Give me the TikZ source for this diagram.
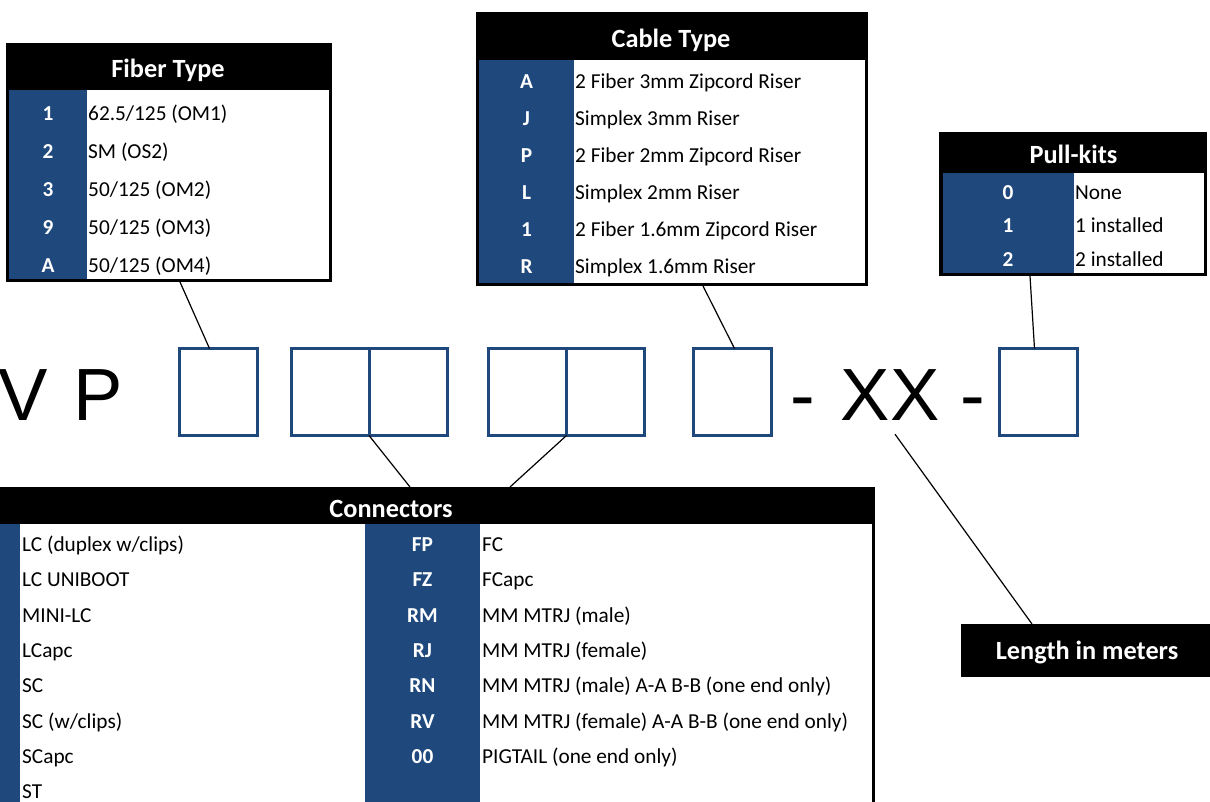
\documentclass[tikz,border=0pt]{standalone}
\usepackage{fontspec}
\setmainfont{Carlito}
\newfontfamily\arialfont{Liberation Sans}
\usetikzlibrary{positioning}
\definecolor{codeblue}{HTML}{1F497D}

\begin{document}
\begin{tikzpicture}[x=1pt, y=-1pt,
  tblframe/.style={fill=black, inner sep=0pt, outer sep=0pt},
  hdr/.style={text=white, font=\bfseries\fontsize{26.3}{30}\selectfont, anchor=base, inner sep=0pt},
  keycell/.style={text=white, font=\bfseries\fontsize{21.3}{25}\selectfont, anchor=base, inner sep=0pt},
  desccell/.style={font=\fontsize{21.3}{25}\selectfont, anchor=base west, inner sep=0pt},
  big/.style={font=\arialfont\fontsize{74}{80}\selectfont, anchor=base, inner sep=0pt},
  slot/.style={draw=codeblue, line width=3pt, minimum width=78pt, minimum height=87pt, inner sep=0pt, outer sep=0pt},
  lead/.style={line width=1.2pt}]
\useasboundingbox (0,0) rectangle (1210,802);

% 表 (Fiber Type)
\node[tblframe, minimum width=326pt, minimum height=239pt] (fiber) at (169,162.5) {};
\fill[codeblue] (9,90) rectangle (87,279);
\fill[white] (87,90) rectangle (329,279);
\node[hdr] (fiberhdr) at (168,77.5) {Fiber Type};
\node[keycell] (f1) at (48,120.5) {1};
\node[desccell] (f1d) at (88,120.5) {62.5/125 (OM1)};
\node[keycell] (f2) at (48,158.5) {2};
\node[desccell] (f2d) at (88,158.5) {SM (OS2)};
\node[keycell] (f3) at (48,196.5) {3};
\node[desccell] (f3d) at (88,196.5) {50/125 (OM2)};
\node[keycell] (f9) at (48,234.5) {9};
\node[desccell] (f9d) at (88,234.5) {50/125 (OM3)};
\node[keycell] (fa) at (48,272.5) {A};
\node[desccell] (fad) at (88,272.5) {50/125 (OM4)};

% 表 (Cable Type)
\node[tblframe, minimum width=392pt, minimum height=274pt] (cable) at (672,149) {};
\fill[codeblue] (479,60) rectangle (574,283);
\fill[white] (574,60) rectangle (865,283);
\node[hdr] (cablehdr) at (671,47.5) {Cable Type};
\node[keycell] (ca) at (526.5,88.5) {A};
\node[desccell] (cad) at (575,88.5) {2 Fiber 3mm Zipcord Riser};
\node[keycell] (cj) at (526.5,125.6) {J};
\node[desccell] (cjd) at (575,125.6) {Simplex 3mm Riser};
\node[keycell] (cp) at (526.5,162.7) {P};
\node[desccell] (cpd) at (575,162.7) {2 Fiber 2mm Zipcord Riser};
\node[keycell] (cl) at (526.5,199.8) {L};
\node[desccell] (cld) at (575,199.8) {Simplex 2mm Riser};
\node[keycell] (c1) at (526.5,236.9) {1};
\node[desccell] (c1d) at (575,236.9) {2 Fiber 1.6mm Zipcord Riser};
\node[keycell] (cr) at (526.5,274.0) {R};
\node[desccell] (crd) at (575,274.0) {Simplex 1.6mm Riser};

% 表 (Pull-kits)
\node[tblframe, minimum width=268pt, minimum height=144pt] (pull) at (1073,204) {};
\fill[codeblue] (943,173) rectangle (1074,273);
\fill[white] (1074,173) rectangle (1204,273);
\node[hdr] (pullhdr) at (1073.5,163.5) {Pull-kits};
\node[keycell] (p0) at (1008,199.5) {0};
\node[desccell] (p0d) at (1075,199.5) {None};
\node[keycell] (p1) at (1008,233) {1};
\node[desccell] (p1d) at (1075,233) {1 installed};
\node[keycell] (p2) at (1008,266.5) {2};
\node[desccell] (p2d) at (1075,266.5) {2 installed};

% 品番
\node[big, anchor=base west] (vp) at (-2,420) {V\kern5pt\ P};
\node[slot] (ft) at (218.5,392) {};
\node[slot] (box2a) at (330,392) {};
\node[slot, right=0pt of box2a] (box2b) {};
\node[slot] (box3a) at (527.5,392) {};
\node[slot, right=0pt of box3a] (box3b) {};
\node[slot] (ct) at (732.5,392) {};
\node[big] (dash1) at (802.5,420) {-};
\node[big] (xx) at (890,420) {XX};
\node[big] (dash2) at (973,420) {-};
\node[slot] (pk) at (1038.5,392) {};

% 表 (Connectors)
\node[tblframe, minimum width=968pt, minimum height=343pt] (conn) at (391,658.5) {};
\fill[codeblue] (-90,524) rectangle (20,830);
\fill[white] (20,524) rectangle (365,830);
\fill[codeblue] (365,524) rectangle (480,830);
\fill[white] (480,524) rectangle (872,830);
\node[hdr] (connhdr) at (391,517.5) {Connectors};
\node[desccell] (l1d) at (22,551.5) {LC (duplex w/clips)};
\node[desccell] (l2d) at (22,586.8) {LC UNIBOOT};
\node[desccell] (l3d) at (22,622.1) {MINI-LC};
\node[desccell] (l4d) at (22,657.4) {LCapc};
\node[desccell] (l5d) at (22,692.7) {SC};
\node[desccell] (l6d) at (22,728.0) {SC (w/clips)};
\node[desccell] (l7d) at (22,763.3) {SCapc};
\node[desccell] (l8d) at (22,798.6) {ST};
\node[keycell] (fp) at (422.5,551.5) {FP};
\node[desccell] (fpd) at (482,551.5) {FC};
\node[keycell] (fz) at (422.5,586.8) {FZ};
\node[desccell] (fzd) at (482,586.8) {FCapc};
\node[keycell] (rm) at (422.5,622.1) {RM};
\node[desccell] (rmd) at (482,622.1) {MM MTRJ (male)};
\node[keycell] (rj) at (422.5,657.4) {RJ};
\node[desccell] (rjd) at (482,657.4) {MM MTRJ (female)};
\node[keycell] (rn) at (422.5,692.7) {RN};
\node[desccell] (rnd) at (482,692.7) {MM MTRJ (male) A-A B-B (one end only)};
\node[keycell] (rv) at (422.5,728.0) {RV};
\node[desccell] (rvd) at (482,728.0) {MM MTRJ (female) A-A B-B (one end only)};
\node[keycell] (oo) at (422.5,763.3) {00};
\node[desccell] (ood) at (482,763.3) {PIGTAIL (one end only)};

% 注記
\node[tblframe, text=white, font=\bfseries\fontsize{26.3}{30}\selectfont, text depth=0pt, minimum width=252pt, minimum height=53pt] (len) at (1087,650.5) {Length in meters};

% 線
\draw[lead] ([xshift=11pt]fiber.south) -- ([xshift=-9pt]ft.north);
\draw[lead] ([xshift=31pt]cable.south) -- ([xshift=2pt]ct.north);
\draw[lead] ([xshift=-43pt]pull.south) -- ([xshift=-4pt]pk.north);
\draw[lead] (box2a.south east) -- ([xshift=19pt]conn.north);
\draw[lead] (box3a.south east) -- ([xshift=119pt]conn.north);
\draw[lead] ([xshift=5pt, yshift=-14pt]xx.south) -- ([xshift=-55pt]len.north);
\end{tikzpicture}
\end{document}
